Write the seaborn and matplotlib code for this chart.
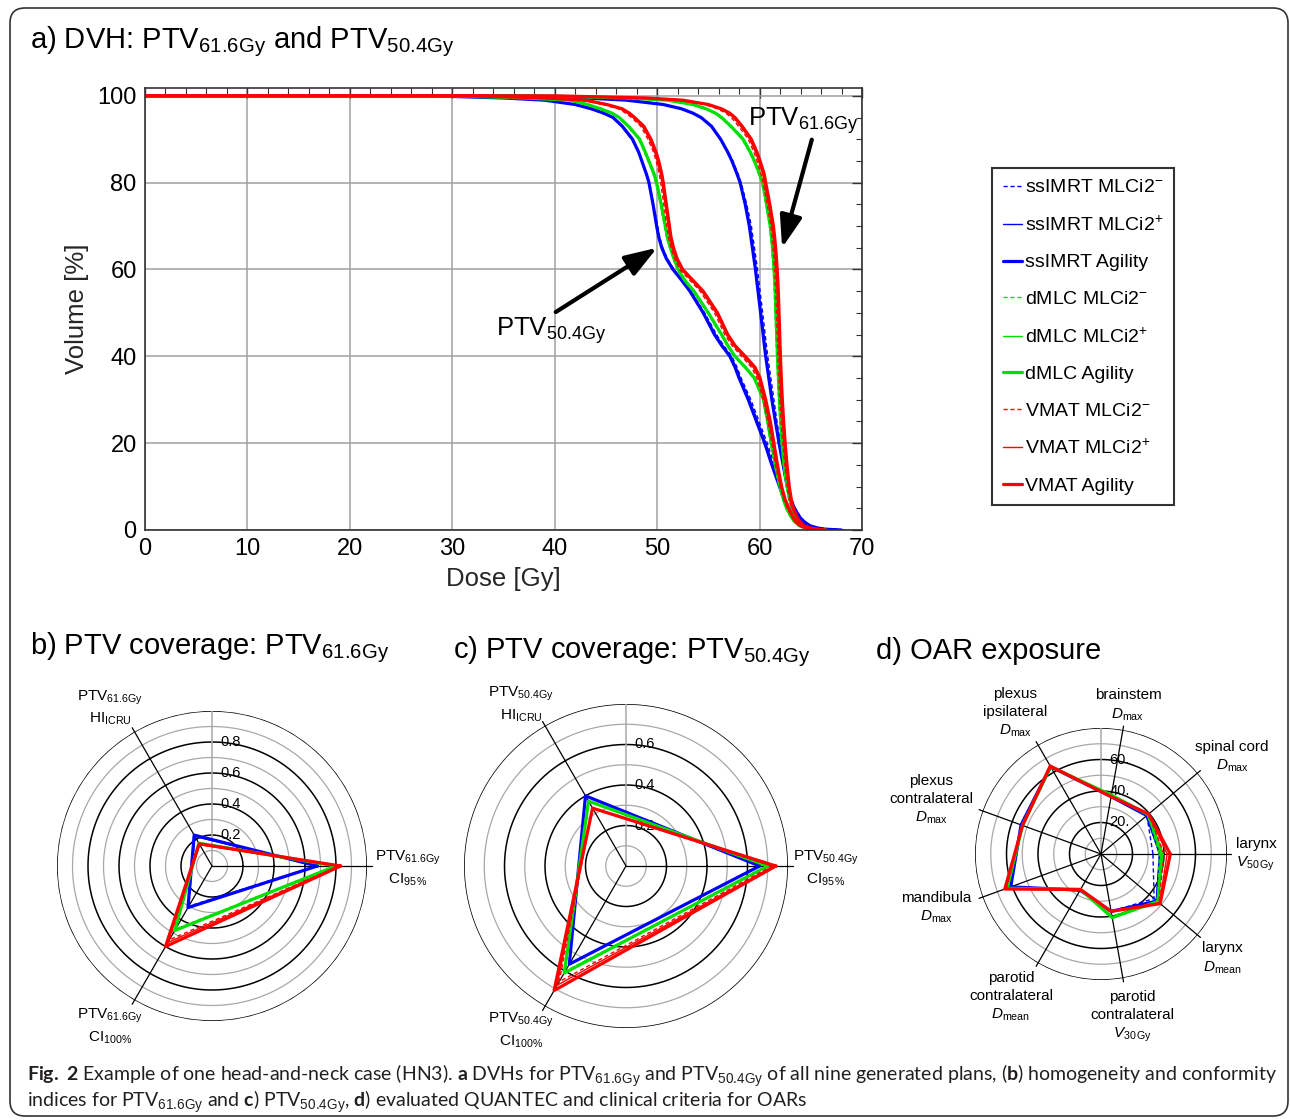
import numpy as np
import pandas as pd
import matplotlib
matplotlib.use("Agg")
import matplotlib.pyplot as plt
from matplotlib.lines import Line2D
from matplotlib.patches import FancyBboxPatch
from matplotlib.ticker import MultipleLocator
import seaborn as sns

# ---------------- data ----------------
plans = ["ssIMRT MLCi2$^{-}$", "ssIMRT MLCi2$^{+}$", "ssIMRT Agility",
         "dMLC MLCi2$^{-}$", "dMLC MLCi2$^{+}$", "dMLC Agility",
         "VMAT MLCi2$^{-}$", "VMAT MLCi2$^{+}$", "VMAT Agility"]

# volume levels [%] at which the dose of each DVH curve was read
dvh_levels = [100, 100, 99.5, 99, 98, 97, 96, 95, 93, 90, 87, 85, 82, 80, 75, 70, 67.5, 65,
              62.5, 60, 57.5, 55, 50, 45, 42.5, 40, 37.5, 35, 30, 25, 20, 15, 10, 7, 5, 3,
              2, 1, 0.5, 0.2, 0]

# PTV 61.6 Gy, dose [Gy] at each level
d616_ss_minus = [0, 36, 43, 47, 50.5, 52.3, 53.4, 54.2, 55.25, 56.2, 56.95, 57.4, 57.9, 58.2, 58.75, 59.2, 59.35, 59.5, 59.65, 59.8, 59.92, 60.05, 60.3, 60.55, 60.67, 60.8, 60.95, 61.1, 61.4, 61.7, 62.05, 62.4, 62.8, 63.15, 63.5, 64.0, 64.4, 65.0, 65.8, 66.6, 68.5]
d616_ss_plus = [0, 36, 43, 47, 50.55, 52.35, 53.45, 54.25, 55.3, 56.2, 56.9, 57.3, 57.8, 58.1, 58.65, 59.05, 59.2, 59.35, 59.5, 59.65, 59.77, 59.9, 60.15, 60.4, 60.52, 60.65, 60.8, 60.95, 61.25, 61.6, 61.95, 62.35, 62.75, 63.1, 63.45, 63.95, 64.35, 64.95, 65.7, 66.4, 68.2]
d616_ss_agility = [0, 36, 43, 47, 50.6, 52.4, 53.5, 54.3, 55.3, 56.2, 56.9, 57.3, 57.8, 58.1, 58.6, 59.0, 59.15, 59.3, 59.45, 59.6, 59.72, 59.85, 60.1, 60.35, 60.47, 60.6, 60.75, 60.9, 61.2, 61.55, 61.9, 62.3, 62.7, 63.05, 63.4, 63.9, 64.3, 64.9, 65.6, 66.3, 68.0]
d616_dmlc_minus = [0, 38, 46.9, 50.9, 53.4, 54.7, 55.6, 56.2, 57.1, 58.3, 59.0, 59.4, 59.9, 60.2, 60.6, 60.95, 61.07, 61.17, 61.25, 61.32, 61.38, 61.43, 61.5, 61.58, 61.62, 61.66, 61.7, 61.75, 61.85, 61.97, 62.1, 62.3, 62.6, 62.85, 63.1, 63.4, 63.6, 64.0, 64.5, 65.1, 66.5]
d616_dmlc_plus = [0, 38, 46.95, 50.95, 53.45, 54.75, 55.65, 56.25, 57.15, 58.35, 59.05, 59.45, 59.95, 60.25, 60.65, 61.0, 61.12, 61.22, 61.3, 61.37, 61.43, 61.48, 61.55, 61.63, 61.67, 61.71, 61.75, 61.8, 61.9, 62.02, 62.15, 62.35, 62.65, 62.9, 63.15, 63.45, 63.65, 64.05, 64.55, 65.15, 66.5]
d616_dmlc_agility = [0, 38, 47, 51, 53.5, 54.8, 55.7, 56.3, 57.2, 58.4, 59.1, 59.5, 60.0, 60.3, 60.7, 61.05, 61.17, 61.27, 61.35, 61.42, 61.48, 61.53, 61.6, 61.68, 61.72, 61.76, 61.8, 61.85, 61.95, 62.07, 62.2, 62.4, 62.7, 62.95, 63.2, 63.5, 63.7, 64.1, 64.6, 65.2, 66.5]
d616_vmat_minus = [0, 40, 48.5, 52.0, 54.6, 55.9, 56.7, 57.25, 57.95, 58.9, 59.45, 59.75, 60.15, 60.35, 60.75, 61.1, 61.22, 61.32, 61.4, 61.47, 61.53, 61.58, 61.65, 61.72, 61.76, 61.8, 61.84, 61.88, 61.98, 62.1, 62.27, 62.46, 62.7, 62.9, 63.15, 63.55, 63.8, 64.2, 64.8, 65.4, 66.5]
d616_vmat_plus = [0, 40, 48.7, 52.2, 54.8, 56.1, 56.9, 57.45, 58.15, 59.05, 59.6, 59.9, 60.3, 60.48, 60.88, 61.22, 61.35, 61.45, 61.53, 61.6, 61.66, 61.71, 61.78, 61.85, 61.88, 61.92, 61.96, 62.0, 62.1, 62.23, 62.38, 62.57, 62.8, 63.0, 63.22, 63.6, 63.85, 64.25, 64.85, 65.45, 66.5]
d616_vmat_agility = [0, 40, 49, 52.5, 55.0, 56.3, 57.1, 57.6, 58.3, 59.2, 59.75, 60.05, 60.45, 60.6, 61.0, 61.35, 61.47, 61.57, 61.65, 61.72, 61.78, 61.83, 61.9, 61.97, 62.0, 62.04, 62.08, 62.12, 62.22, 62.35, 62.5, 62.68, 62.9, 63.1, 63.3, 63.65, 63.9, 64.3, 64.9, 65.5, 66.5]

# PTV 50.4 Gy, dose [Gy] at each level
d504_ss_minus = [0, 28, 35, 38.8, 41.8, 43.4, 44.6, 45.6, 46.5, 47.5, 48.15, 48.5, 48.95, 49.25, 49.65, 50.05, 50.25, 50.55, 51.0, 51.65, 52.5, 53.3, 54.65, 55.8, 56.5, 57.3, 57.8, 58.2, 59.15, 59.95, 60.75, 61.45, 62.15, 62.55, 62.95, 63.4, 63.8, 64.5, 65.2, 66.0, 68.0]
d504_ss_plus = [0, 28, 35, 38.9, 41.9, 43.5, 44.7, 45.65, 46.55, 47.55, 48.2, 48.5, 48.95, 49.2, 49.6, 49.95, 50.2, 50.5, 50.95, 51.6, 52.45, 53.25, 54.55, 55.7, 56.4, 57.2, 57.7, 58.1, 59.0, 59.8, 60.6, 61.3, 62.05, 62.5, 62.85, 63.35, 63.75, 64.45, 65.1, 65.9, 67.8]
d504_ss_agility = [0, 28, 35, 39, 42.0, 43.6, 44.8, 45.7, 46.6, 47.6, 48.2, 48.5, 48.95, 49.2, 49.6, 49.95, 50.15, 50.45, 50.9, 51.55, 52.4, 53.2, 54.5, 55.6, 56.3, 57.1, 57.6, 58.0, 58.9, 59.7, 60.5, 61.2, 61.95, 62.4, 62.8, 63.3, 63.7, 64.4, 65.0, 65.8, 67.5]
d504_dmlc_minus = [0, 30, 36.8, 41.3, 43.1, 44.4, 45.5, 46.2, 47.1, 48.2, 48.75, 49.1, 49.6, 49.85, 50.3, 50.7, 50.9, 51.2, 51.55, 51.95, 52.6, 53.5, 54.9, 56.2, 56.8, 57.5, 58.5, 59.4, 60.3, 60.7, 61.05, 61.45, 61.9, 62.25, 62.55, 63.0, 63.3, 63.8, 64.3, 64.9, 66.0]
d504_dmlc_plus = [0, 30, 36.9, 41.4, 43.15, 44.45, 45.55, 46.25, 47.15, 48.25, 48.8, 49.15, 49.65, 49.9, 50.35, 50.75, 50.95, 51.25, 51.6, 52.0, 52.65, 53.55, 54.95, 56.25, 56.85, 57.55, 58.55, 59.45, 60.35, 60.75, 61.1, 61.5, 61.95, 62.3, 62.6, 63.05, 63.35, 63.85, 64.35, 64.95, 66.0]
d504_dmlc_agility = [0, 30, 37, 41.5, 43.2, 44.5, 45.6, 46.3, 47.2, 48.3, 48.85, 49.2, 49.7, 49.95, 50.4, 50.8, 51.0, 51.3, 51.65, 52.05, 52.7, 53.6, 55.0, 56.3, 56.9, 57.6, 58.6, 59.5, 60.4, 60.8, 61.15, 61.55, 62.0, 62.35, 62.65, 63.1, 63.4, 63.9, 64.4, 65.0, 66.0]
d504_vmat_minus = [0, 32, 38.5, 42.5, 44.7, 46.2, 46.95, 47.5, 48.4, 49.1, 49.65, 49.9, 50.2, 50.35, 50.65, 50.95, 51.1, 51.35, 51.7, 52.2, 53.2, 54.2, 55.6, 56.6, 57.3, 58.25, 59.2, 59.75, 60.35, 60.8, 61.2, 61.55, 62.0, 62.35, 62.7, 63.15, 63.4, 63.85, 64.4, 65.0, 66.0]
d504_vmat_plus = [0, 32, 38.7, 42.7, 44.9, 46.4, 47.1, 47.65, 48.55, 49.25, 49.77, 50.02, 50.32, 50.47, 50.77, 51.07, 51.22, 51.47, 51.82, 52.35, 53.35, 54.35, 55.75, 56.75, 57.45, 58.42, 59.37, 59.9, 60.47, 60.92, 61.3, 61.65, 62.07, 62.42, 62.77, 63.2, 63.45, 63.9, 64.45, 65.05, 66.0]
d504_vmat_agility = [0, 32, 39, 43, 45.1, 46.6, 47.3, 47.8, 48.7, 49.4, 49.9, 50.15, 50.45, 50.6, 50.9, 51.2, 51.35, 51.6, 51.95, 52.5, 53.5, 54.5, 55.9, 56.9, 57.6, 58.6, 59.55, 60.05, 60.6, 61.05, 61.4, 61.75, 62.15, 62.5, 62.85, 63.25, 63.5, 63.95, 64.5, 65.1, 66.0]

# b) PTV 61.6 Gy: CI95%, HI_ICRU, CI100%
b_axes = [r"PTV$_{\mathrm{61.6Gy}}$" "\n" r"CI$_{\mathrm{95\,\%}}$",
          r"PTV$_{\mathrm{61.6Gy}}$" "\n" r"HI$_{\mathrm{ICRU}}$",
          r"PTV$_{\mathrm{61.6Gy}}$" "\n" r"CI$_{\mathrm{100\%}}$"]
b_values = [[0.67, 0.23, 0.30], [0.68, 0.22, 0.31], [0.68, 0.23, 0.31],
            [0.79, 0.17, 0.47], [0.80, 0.17, 0.48], [0.80, 0.17, 0.48],
            [0.82, 0.16, 0.55], [0.82, 0.16, 0.57], [0.83, 0.165, 0.60]]

# c) PTV 50.4 Gy
c_axes = [r"PTV$_{\mathrm{50.4Gy}}$" "\n" r"CI$_{\mathrm{95\,\%}}$",
          r"PTV$_{\mathrm{50.4Gy}}$" "\n" r"HI$_{\mathrm{ICRU}}$",
          r"PTV$_{\mathrm{50.4Gy}}$" "\n" r"CI$_{\mathrm{100\%}}$"]
c_values = [[0.66, 0.40, 0.56], [0.66, 0.40, 0.56], [0.66, 0.40, 0.56],
            [0.70, 0.37, 0.60], [0.70, 0.37, 0.61], [0.70, 0.37, 0.61],
            [0.72, 0.33, 0.66], [0.73, 0.33, 0.68], [0.74, 0.33, 0.71]]

# d) OAR exposure
d_axes = ["larynx\n" r"$V_{\mathrm{50\,Gy}}$",
          "spinal cord\n" r"$D_{\mathrm{max}}$",
          "brainstem\n" r"$D_{\mathrm{max}}$",
          "plexus\nipsilateral\n" r"$D_{\mathrm{max}}$",
          "plexus\ncontralateral\n" r"$D_{\mathrm{max}}$",
          "mandibula\n" r"$D_{\mathrm{max}}$",
          "parotid\ncontralateral\n" r"$D_{\mathrm{mean}}$",
          "parotid\ncontralateral\n" r"$V_{\mathrm{30\,Gy}}$",
          "larynx\n" r"$D_{\mathrm{mean}}$"]
d_values = [[33, 38, 37, 63.5, 54, 61, 27, 37, 44],
            [37, 38, 37, 63.5, 54, 61, 27, 37, 46],
            [38, 38, 37, 64, 54, 61, 26.5, 37, 46.5],
            [37, 39, 37.5, 64, 53, 63, 26, 40, 47],
            [38, 39, 37.5, 64, 53, 63, 26, 41, 47],
            [39, 39, 38, 64, 53, 63.5, 26, 41, 47],
            [40, 39.5, 37, 64, 53, 64, 26, 37, 48],
            [42, 39.5, 37, 64, 53, 64.5, 26, 37, 48.5],
            [44, 39.5, 37, 64.5, 53, 65, 26, 37, 49]]

# label placement around each radar: (angle in degrees, distance from centre in px)
b_label_pos = [(-0.6, 196), (122.8, 188), (237.5, 190)]
c_label_pos = [(-0.6, 200), (123.0, 193), (237.4, 195)]
d_label_pos = [(-0.4, 155), (36.5, 163), (79.7, 151), (121.4, 165), (162.4, 178),
               (198.2, 173), (237.8, 169), (280.8, 166), (319.3, 160)]

# ---------------- styles ----------------
plan_colors = ["#0000ff"] * 3 + ["#00e000"] * 3 + ["#ff0000"] * 3
plan_widths = [1.0, 1.0, 2.3] * 3
plan_dashes = [(3, 2), "", ""] * 3
palette = dict(zip(plans, plan_colors))
sizes = dict(zip(plans, plan_widths))
dashes = dict(zip(plans, plan_dashes))

sns.set_style("white")
plt.rcParams["font.family"] = ["Liberation Sans", "DejaVu Sans"]
plt.rcParams["mathtext.fontset"] = "custom"
plt.rcParams["mathtext.rm"] = "Liberation Sans"
plt.rcParams["mathtext.it"] = "Liberation Sans:italic"
plt.rcParams["mathtext.bf"] = "Lato:bold"
plt.rcParams["text.color"] = "black"

W, H = 1290, 1120
fig = plt.figure(figsize=(W / 100, H / 100), dpi=100)

# outer rounded frame
frame = FancyBboxPatch((0.10, 0.04), 12.78, 11.08, boxstyle="round,pad=0,rounding_size=0.15",
                       transform=fig.dpi_scale_trans, fill=False, ec="#333333", lw=1.2)
fig.patches.append(frame)

# ---------------- a) DVH ----------------
dvh_rows = []
curves616 = [d616_ss_minus, d616_ss_plus, d616_ss_agility, d616_dmlc_minus, d616_dmlc_plus,
             d616_dmlc_agility, d616_vmat_minus, d616_vmat_plus, d616_vmat_agility]
curves504 = [d504_ss_minus, d504_ss_plus, d504_ss_agility, d504_dmlc_minus, d504_dmlc_plus,
             d504_dmlc_agility, d504_vmat_minus, d504_vmat_plus, d504_vmat_agility]
for ptv, curves in (("61.6", curves616), ("50.4", curves504)):
    for plan, doses in zip(plans, curves):
        assert len(doses) == len(dvh_levels), (ptv, plan, len(doses))
        for i, (d, v) in enumerate(zip(doses, dvh_levels)):
            dvh_rows.append(dict(plan=plan, ptv=ptv, order=i, dose=d, volume=v))
dvh = pd.DataFrame(dvh_rows)

ax = fig.add_axes([145 / W, 1 - 530 / H, 717 / W, 442 / H])
sns.lineplot(data=dvh, x="dose", y="volume", hue="plan", size="plan", style="plan",
             units="ptv", estimator=None, sort=False, palette=palette, sizes=sizes,
             dashes=dashes, legend=False, ax=ax)
ax.set_xlim(0, 70)
ax.set_ylim(0, 101.8)
ax.set_xticks(range(0, 71, 10))
ax.set_yticks(range(0, 101, 20))
ax.xaxis.set_minor_locator(MultipleLocator(2))
ax.yaxis.set_minor_locator(MultipleLocator(5))
ax.tick_params(which="both", direction="in", top=True, right=True, colors="#333333",
               labelcolor="black")
ax.tick_params(which="major", length=7, width=1, labelsize=17, pad=6)
ax.tick_params(which="minor", length=4, width=0.8)
ax.grid(True, which="major", color="#a0a0a0", lw=1.1)
ax.set_axisbelow(True)
for s in ax.spines.values():
    s.set_color("#333333")
    s.set_linewidth(1.2)
ax.set_xlabel("Dose [Gy]", fontsize=18.5, labelpad=5)
ax.set_ylabel("Volume [%]", fontsize=18.5, labelpad=6)

arrow = dict(arrowstyle="-|>,head_length=1.3,head_width=0.45", lw=3, color="black",
             shrinkA=0, shrinkB=0, mutation_scale=15)
ax.annotate("", xy=(62.2, 65), xytext=(65.1, 89.9), arrowprops=arrow)
ax.annotate("", xy=(50.0, 65), xytext=(40.1, 50.2), arrowprops=arrow)
ax.text(58.9, 93.0, r"PTV$_{\mathrm{61.6Gy}}$", fontsize=18.5, va="baseline")
ax.text(34.3, 44.7, r"PTV$_{\mathrm{50.4Gy}}$", fontsize=18.5, va="baseline")

handles = [Line2D([], [], color=c, lw=w, dashes=(d if d else (None, None)))
           for c, w, d in zip(plan_colors, plan_widths, plan_dashes)]
leg = fig.legend(handles, plans, loc="upper left", bbox_to_anchor=(992 / W, 1 - 168 / H),
                 frameon=True, fancybox=False, edgecolor="black", fontsize=14,
                 handlelength=1.0, handletextpad=0.15, labelspacing=0.98,
                 borderpad=0.55, borderaxespad=0)
leg.get_frame().set_linewidth(1.5)

fig.text(30 / W, 1 - 42 / H, r"a) DVH: PTV$_{\mathrm{61.6Gy}}$ and PTV$_{\mathrm{50.4Gy}}$",
         fontsize=21, va="center")


# ---------------- radar charts ----------------
def draw_radar(cx, cy, R, axis_labels, values, rmax, rings, labelled, label_fmt, label_pos):
    pax = fig.add_axes([(cx - R) / W, 1 - (cy + R) / H, 2 * R / W, 2 * R / H],
                       projection="polar")
    n = len(axis_labels)
    theta = np.linspace(0, 2 * np.pi, n, endpoint=False)
    rows = []
    for plan, vals in zip(plans, values):
        for i, (t, v) in enumerate(zip(list(theta) + [2 * np.pi], list(vals) + [vals[0]])):
            rows.append(dict(plan=plan, order=i, theta=t, value=v))
    df = pd.DataFrame(rows)

    fine = np.linspace(0, 2 * np.pi, 361)
    for r in rings:
        black = r in labelled or r == rings[-1]
        pax.plot(fine, np.full_like(fine, r), color="black" if black else "#a8a8a8",
                 lw=1.1 if black else 0.9, zorder=1)
    pax.plot([np.pi / 2, np.pi / 2], [0, rmax], color="#a8a8a8", lw=1.1, zorder=1)
    for t in theta:
        pax.plot([t, t], [0, rmax * 1.03], color="black", lw=0.9, zorder=1, clip_on=False)

    sns.lineplot(data=df, x="theta", y="value", hue="plan", size="plan", style="plan",
                 estimator=None, sort=False, palette=palette, sizes=sizes, dashes=dashes,
                 legend=False, ax=pax, zorder=3)
    pax.set_ylim(0, rmax)
    pax.set_xticks([])
    pax.set_yticks([])
    pax.grid(False)
    pax.spines["polar"].set_visible(False)
    pax.set_xlabel("")
    pax.set_ylabel("")
    pax.set_facecolor("none")
    for r in labelled:
        pax.annotate(label_fmt(r), xy=(np.pi / 2, r), xytext=(6, 0),
                     textcoords="offset points", ha="left", va="center", fontsize=10.5,
                     zorder=2)
    for lbl, (ang, dist) in zip(axis_labels, label_pos):
        a = np.radians(ang)
        pt = dist * 0.72
        pax.annotate(lbl, xy=(0, 0), xytext=(pt * np.cos(a), pt * np.sin(a)),
                     textcoords="offset points", ha="center", va="center", fontsize=11,
                     linespacing=1.35, annotation_clip=False)
    return pax


draw_radar(212, 866, 155, b_axes, b_values, 1.0, [0.1, 0.2, 0.3, 0.4, 0.5, 0.6, 0.7, 0.8, 0.9, 1.0],
           [0.2, 0.4, 0.6, 0.8], lambda r: f"{r:.1f}", b_label_pos)
draw_radar(626, 866, 162, c_axes, c_values, 0.8, [0.1, 0.2, 0.3, 0.4, 0.5, 0.6, 0.7, 0.8],
           [0.2, 0.4, 0.6], lambda r: f"{r:.1f}", c_label_pos)
draw_radar(1101, 854, 126, d_axes, d_values, 80, [10, 20, 30, 40, 50, 60, 70, 80],
           [20, 40, 60], lambda r: f"{r:.0f}.", d_label_pos)

fig.text(30 / W, 1 - 648 / H, r"b) PTV coverage: PTV$_{\mathrm{61.6Gy}}$", fontsize=21,
         va="center")
fig.text(453 / W, 1 - 652 / H, r"c) PTV coverage: PTV$_{\mathrm{50.4Gy}}$", fontsize=21,
         va="center")
fig.text(876 / W, 1 - 651 / H, "d) OAR exposure", fontsize=21, va="center")

# ---------------- caption ----------------
cap1 = (r"$\mathbf{Fig.}$ $\mathbf{2}$ Example of one head-and-neck case (HN3). $\mathbf{a}$ DVHs for "
        r"PTV$_{\mathrm{61.6Gy}}$ and PTV$_{\mathrm{50.4Gy}}$ of all nine generated plans, "
        r"($\mathbf{b}$) homogeneity and conformity")
cap2 = (r"indices for PTV$_{\mathrm{61.6Gy}}$ and $\mathbf{c}$) PTV$_{\mathrm{50.4Gy}}$, "
        r"$\mathbf{d}$) evaluated QUANTEC and clinical criteria for OARs")
fig.text(27 / W, 1 - 1076 / H, cap1, fontsize=14, va="center", family="Lato", color="#231f20")
fig.text(27 / W, 1 - 1102 / H, cap2, fontsize=14, va="center", family="Lato", color="#231f20")

fig.savefig("out.png", dpi=100)
